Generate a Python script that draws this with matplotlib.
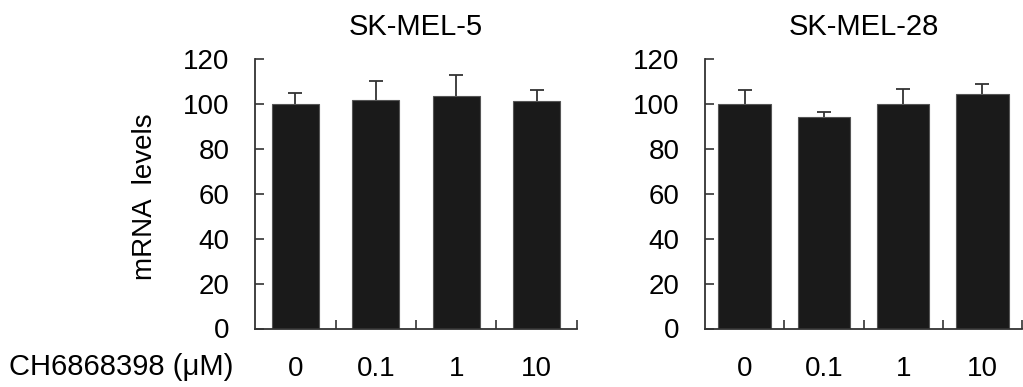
import numpy as np
import matplotlib
matplotlib.use("Agg")
import matplotlib.pyplot as plt

plt.rcParams["font.family"] = ["Liberation Sans", "DejaVu Sans"]

# doses of CH6868398 (uM), shared by both panels
doses = ["0", "0.1", "1", "10"]

# SK-MEL-5
mel5_mean = [100.0, 101.8, 103.6, 101.2]
mel5_err = [4.9, 8.3, 9.3, 4.9]

# SK-MEL-28
mel28_mean = [100.0, 94.2, 100.0, 104.2]
mel28_err = [6.1, 2.2, 6.7, 4.7]

BAR = "#1a1a1a"
LINE = "#333333"
FS = 20
FS_BIG = 21


def draw_panel(ax, title, means, errs, width):
    x = np.arange(len(doses))
    # error bars sit behind the bars so only the upper half shows
    ax.errorbar(x, means, yerr=errs, fmt="none", ecolor=LINE, elinewidth=1.3,
                capsize=5, capthick=1.3, zorder=1)
    ax.bar(x, means, width=width, color=BAR, edgecolor="#555555", linewidth=0.8, zorder=2)
    ax.set_xlim(-0.5, len(doses) - 0.5)
    ax.set_ylim(0, 120)
    ax.set_yticks(np.arange(0, 121, 20))
    # boundary ticks between categories, labels at centres
    ax.set_xticks(np.arange(len(doses)) + 0.5)
    ax.set_xticklabels([])
    ax.set_xticks(x, minor=True)
    ax.set_xticklabels(doses, minor=True)
    ax.tick_params(axis="x", which="major", direction="in", length=6.5, width=1.2, color=LINE)
    ax.tick_params(axis="x", which="minor", length=0, pad=20, labelsize=FS)
    ax.tick_params(axis="y", direction="in", length=6.5, width=1.2, color=LINE,
                   pad=18.5, labelsize=FS)
    for side in ("top", "right"):
        ax.spines[side].set_visible(False)
    for side in ("left", "bottom"):
        ax.spines[side].set_color(LINE)
        ax.spines[side].set_linewidth(1.3)
    ax.set_title(title, fontsize=FS_BIG, pad=17)


fig = plt.figure(figsize=(10.23, 3.87), dpi=100)
ax1 = fig.add_axes([255 / 1023, 58.5 / 387, 322 / 1023, 269.5 / 387])
ax2 = fig.add_axes([705 / 1023, 58.5 / 387, 317 / 1023, 269.5 / 387])

draw_panel(ax1, "SK-MEL-5", mel5_mean, mel5_err, 0.58)
draw_panel(ax2, "SK-MEL-28", mel28_mean, mel28_err, 0.66)

ax1.set_ylabel("mRNA  levels", fontsize=FS)
ax1.yaxis.set_label_coords(-0.30, 0.49)

fig.text(233 / 1023, 1 - 367 / 387, "CH6868398 (\u03bcM)", fontsize=FS_BIG,
         ha="right", va="center")

fig.savefig("out.png", dpi=100)
